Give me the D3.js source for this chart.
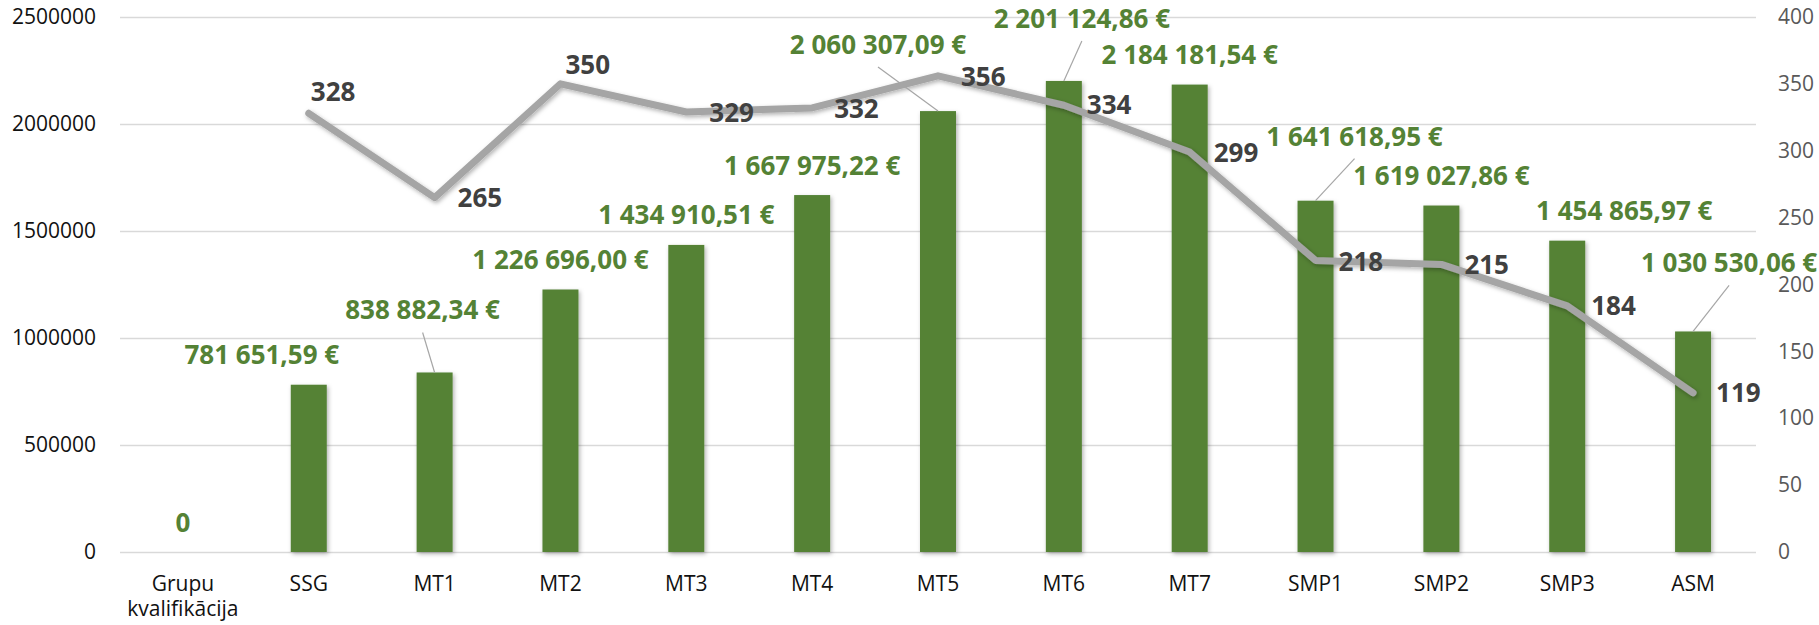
<!DOCTYPE html>
<html>
<head>
<meta charset="utf-8">
<script src="https://cdn.jsdelivr.net/npm/d3@7"></script>
<style>
  html, body { margin: 0; padding: 0; background: #fff; }
  svg { display: block; font-family: "Open Sans", sans-serif; }
  .domain { display: none; }
</style>
</head>
<body>
<div id="chart"></div>
<script>
// chart values
const categories = ["Grupu kvalifikācija", "SSG", "MT1", "MT2", "MT3", "MT4", "MT5",
                    "MT6", "MT7", "SMP1", "SMP2", "SMP3", "ASM"];
const amounts = [0, 781651.59, 838882.34, 1226696.00, 1434910.51, 1667975.22, 2060307.09,
                 2201124.86, 2184181.54, 1641618.95, 1619027.86, 1454865.97, 1030530.06];
const counts = [null, 328, 265, 350, 329, 332, 356, 334, 299, 218, 215, 184, 119];
const leftTicks = [0, 500000, 1000000, 1500000, 2000000, 2500000];
const rightTicks = [0, 50, 100, 150, 200, 250, 300, 350, 400];

// hand-placed data labels (shift from the default spot), like the original sheet
// [dx from bar centre, baseline above bar top, leader line?]
const amountLabelShift = [
  [0, 20, false], [-47, 21, false], [-12, 53, true], [0, 20, false], [0, 21, false],
  [0, 20, false], [-60, 57, true], [18, 53, true], [0, 21, false], [39, 55, true],
  [0, 21, false], [57, 21, false], [36, 59, true]
];
// [dx, dy] of the label start relative to the line point
const countLabelShift = [
  null, [2, -12], [23, 9], [5, -10], [23, 10], [22, 10], [23, 10],
  [23, 9], [24, 10], [23, 11], [23, 10], [24, 9], [23, 9]
];

const width = 1819, height = 625;
const plotLeft = 120, plotRight = 1756, plotTop = 17, plotBottom = 552;
const barColor = "#548235";
const lineColor = "#a5a5a5";
const gridColor = "#d9d9d9";
const labelSize = 26;

const euro = d3.formatLocale({
  decimal: ",", thousands: "\u00a0", grouping: [3], currency: ["", "\u00a0€"]
}).format("$,.2f");

const svg = d3.select("#chart").append("svg")
  .attr("width", width)
  .attr("height", height);

const defs = svg.append("defs");
defs.append("filter").attr("id", "shadow")
  .attr("x", "-20%").attr("y", "-20%").attr("width", "140%").attr("height", "140%")
  .append("feDropShadow")
  .attr("dx", 1.5).attr("dy", 2).attr("stdDeviation", 2)
  .attr("flood-color", "#000").attr("flood-opacity", 0.3);

const x = d3.scaleBand()
  .domain(categories)
  .range([plotLeft, plotRight])
  .paddingInner(0.714)
  .paddingOuter(0.357);
const yLeft = d3.scaleLinear().domain([0, 2500000]).range([plotBottom, plotTop]);
const yRight = d3.scaleLinear().domain([0, 400]).range([plotBottom, plotTop]);
const cx = function(i) { return x(categories[i]) + x.bandwidth() / 2; };

// gridlines
svg.append("g")
  .selectAll("line")
  .data(leftTicks)
  .join("line")
  .attr("x1", plotLeft)
  .attr("x2", plotRight)
  .attr("y1", function(d) { return Math.round(yLeft(d)) + 0.5; })
  .attr("y2", function(d) { return Math.round(yLeft(d)) + 0.5; })
  .attr("stroke", gridColor)
  .attr("stroke-width", 1.3);

// axes
const leftAxis = svg.append("g")
  .attr("transform", "translate(" + plotLeft + ",0)")
  .call(d3.axisLeft(yLeft).tickValues(leftTicks).tickFormat(d3.format("d"))
        .tickSize(0).tickPadding(24));
leftAxis.selectAll("text")
  .attr("font-size", 21).attr("font-family", "Open Sans").attr("fill", "#111");

const rightAxis = svg.append("g")
  .attr("transform", "translate(" + plotRight + ",0)")
  .call(d3.axisRight(yRight).tickValues(rightTicks).tickSize(0).tickPadding(22));
rightAxis.selectAll("text")
  .attr("font-size", 21).attr("font-family", "Open Sans").attr("fill", "#595959");

const bottomAxis = svg.append("g")
  .attr("transform", "translate(0," + plotBottom + ")")
  .call(d3.axisBottom(x).tickSize(0).tickPadding(24));
bottomAxis.selectAll("text")
  .attr("font-size", 21).attr("font-family", "Open Sans").attr("fill", "#111")
  .each(function(d) {
    var words = d.split(" ");
    if (words.length < 2) return;
    var t = d3.select(this).text(null);
    words.forEach(function(w, k) {
      t.append("tspan").attr("x", 0).attr("dy", k === 0 ? "0.71em" : "25px").text(w);
    });
  });

// bars
svg.append("g")
  .attr("filter", "url(#shadow)")
  .selectAll("rect")
  .data(amounts)
  .join("rect")
  .attr("x", function(d, i) { return x(categories[i]); })
  .attr("y", function(d) { return yLeft(d); })
  .attr("width", x.bandwidth())
  .attr("height", function(d) { return plotBottom - yLeft(d); })
  .attr("fill", barColor);

// line
const line = d3.line()
  .defined(function(d) { return d != null; })
  .x(function(d, i) { return cx(i); })
  .y(function(d) { return yRight(d); });
svg.append("path")
  .datum(counts)
  .attr("d", line)
  .attr("fill", "none")
  .attr("stroke", lineColor)
  .attr("stroke-width", 7)
  .attr("stroke-linejoin", "round")
  .attr("stroke-linecap", "round")
  .attr("filter", "url(#shadow)");

// amount labels + leader lines
amounts.forEach(function(v, i) {
  var s = amountLabelShift[i];
  var lx = cx(i) + s[0];
  var base = yLeft(v) - s[1];
  if (s[2]) {
    svg.append("line")
      .attr("x1", lx).attr("y1", base + 13)
      .attr("x2", cx(i)).attr("y2", yLeft(v))
      .attr("stroke", "#a6a6a6").attr("stroke-width", 1.2);
  }
  svg.append("text")
    .attr("x", lx)
    .attr("y", base)
    .attr("text-anchor", "middle")
    .attr("font-size", labelSize)
    .attr("font-weight", "bold")
    .attr("fill", barColor)
    .text(v === 0 ? "0" : euro(v));
});

// count labels
counts.forEach(function(v, i) {
  if (v == null) return;
  var s = countLabelShift[i];
  svg.append("text")
    .attr("x", cx(i) + s[0])
    .attr("y", yRight(v) + s[1])
    .attr("font-size", labelSize)
    .attr("font-weight", "bold")
    .attr("fill", "#404040")
    .text(v);
});
</script>
</body>
</html>
